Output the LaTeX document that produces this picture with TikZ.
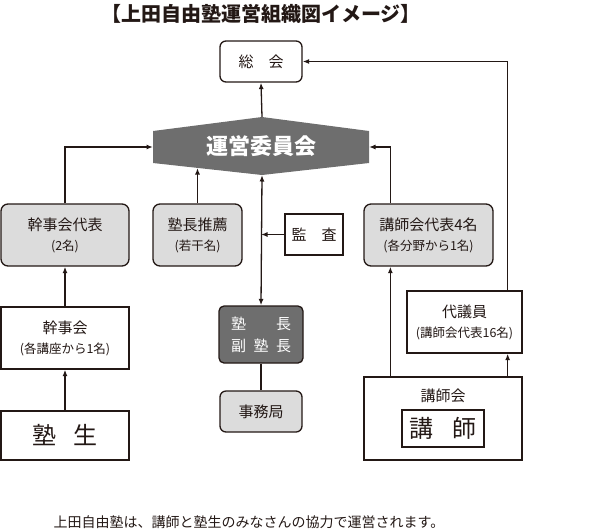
\documentclass[tikz,border=0pt]{standalone}
\usepackage{fontspec}
\setmainfont{Noto Sans CJK JP}
\usetikzlibrary{arrows.meta}
\definecolor{ink}{HTML}{231815}
\definecolor{pale}{HTML}{DCDCDC}
\definecolor{slate}{HTML}{6E6E6E}
\newcommand{\smallline}[1]{{\fontsize{12.5}{16}\selectfont #1}}

\begin{document}
\begin{tikzpicture}[x=1pt, y=-1pt, line width=1.3pt, color=ink,
  box/.style={draw=ink, fill=white, inner sep=0pt, align=center, font=\fontsize{15}{20}\selectfont},
  gbox/.style={box, fill=pale, rounded corners=7pt},
  dbox/.style={box, fill=slate, rounded corners=5pt, text=white, font=\fontsize{15}{22}\selectfont},
  arr/.style={-{Latex[length=6.5pt,width=5pt]}},
  both/.style={{Latex[length=6.5pt,width=5pt]}-{Latex[length=6.5pt,width=5pt]}}]
\useasboundingbox (0,0) rectangle (601,531);

% title and note
\node[font=\fontsize{20}{24}\selectfont\bfseries] (title) at (261,14) {【上田自由塾運営組織図イメージ】};
\node[font=\fontsize{14}{18}\selectfont] (note) at (249,522) {上田自由塾は、講師と塾生のみなさんの協力で運営されます。};

% committee hexagon
\fill[slate] (153,131) -- (262,117) -- (369,131) -- (369,163) -- (262,175) -- (153,163) -- cycle;
\node[text=white, font=\fontsize{22}{26}\selectfont\bfseries] (unei) at (261,146) {運営委員会};
\coordinate (uT) at (262,117);
\coordinate (uB) at (262,175);
\coordinate (uL) at (153,147);
\coordinate (uR) at (369,147);
\coordinate (uS) at (197.5,168);

% boxes
\node[box, rounded corners=6pt, minimum width=82, minimum height=41] (soukai) at (261,61.5) {総\hspace{1em}会};
\node[gbox, minimum width=128, minimum height=62] (kanjidai) at (65,235) {幹事会代表\\\smallline{(2名)}};
\node[gbox, minimum width=89, minimum height=62] (suisen) at (197.5,235) {塾長推薦\\\smallline{(若干名)}};
\node[box, minimum width=58, minimum height=41] (kansa) at (314,234.5) {監\hspace{1em}査};
\node[gbox, minimum width=129, minimum height=62] (koshidai) at (428.5,235) {講師会代表4名\\\smallline{(各分野から1名)}};
\node[box, minimum width=115, minimum height=62] (daigiin) at (464.5,322) {代議員\\\smallline{(講師会代表16名)}};
\node[box, minimum width=128, minimum height=62] (kanjikai) at (65,338) {幹事会\\\smallline{(各講座から1名)}};
\node[dbox, minimum width=84, minimum height=57] (jukucho) at (261,334.5) {塾\hspace{2em}長\\副\hspace{.5em}塾\hspace{.5em}長};
\node[gbox, rounded corners=6pt, minimum width=82, minimum height=41] (jimu) at (261,411.5) {事務局};
\node[box, minimum width=128, minimum height=49, font=\fontsize{24}{28}\selectfont] (jukusei) at (65,435.5) {塾\hspace{.7em}生};
\node[box, minimum width=158, minimum height=83] (koshikai) at (443,418.5) {};
\node[font=\fontsize{15}{20}\selectfont] (koshikailabel) at (443,396) {講師会};
\node[box, minimum width=82, minimum height=37, font=\fontsize{24}{28}\selectfont] (koshi) at (443,428.5) {講\hspace{.8em}師};

% connectors
\draw[arr] (uT) -- (soukai.south);
\draw[arr] (kanjidai.north) |- (uL);
\draw[arr] ([xshift=27pt]koshidai.north west) |- (uR);
\draw[arr] ([xshift=-15pt]daigiin.north east) |- (soukai.east);
\draw[arr] (suisen.north) -- (uS);
\draw[both] (uB) -- (jukucho.north);
\draw[arr] (kansa.west) -- (kansa.west -| jukucho.north);
\draw[arr] (kanjikai.north) -- (kanjidai.south);
\draw[arr] (jukusei.north) -- (kanjikai.south);
\draw (jukucho.south) -- (jimu.north);
\draw[arr] ([xshift=27pt]koshikai.north west) -- ([xshift=27pt]koshidai.south west);
\draw[arr] ([xshift=-15pt]koshikai.north east) -- ([xshift=-15pt]daigiin.south east);
\end{tikzpicture}
\end{document}
